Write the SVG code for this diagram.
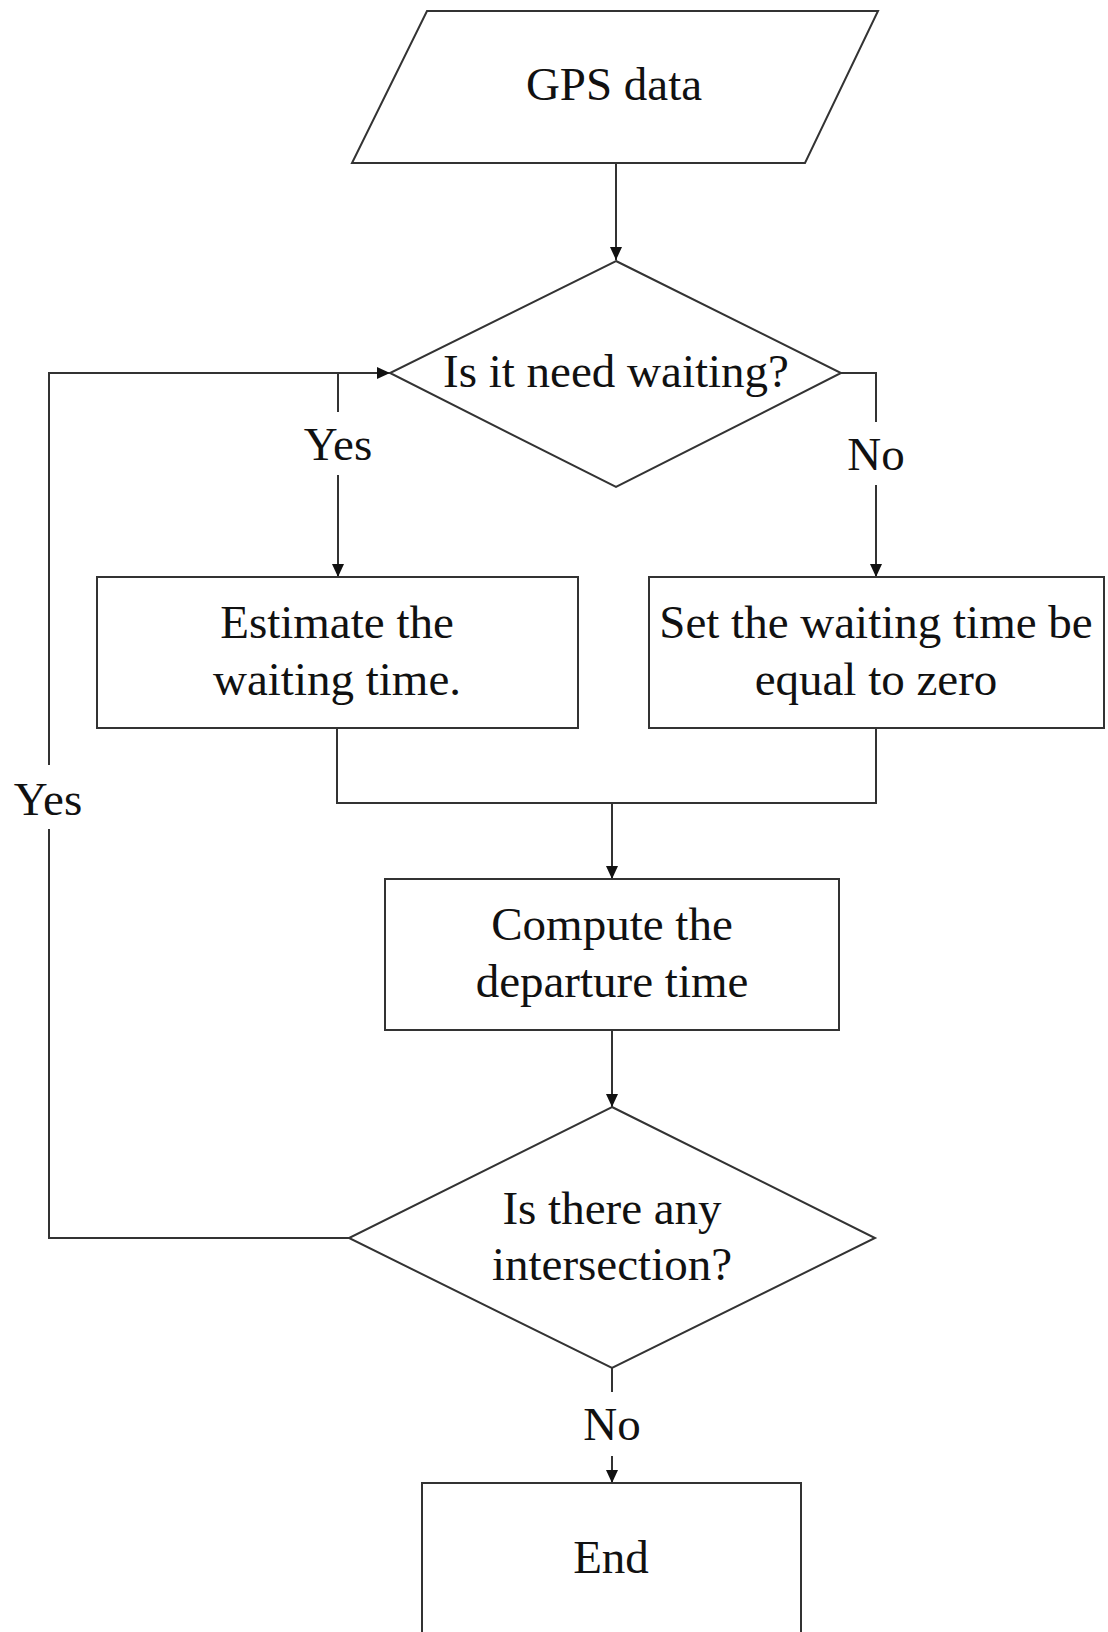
<svg xmlns="http://www.w3.org/2000/svg" width="1108" height="1632" viewBox="0 0 1108 1632">
  <style>
    .shape { fill: #ffffff; stroke: #333333; stroke-width: 2; }
    .wire { fill: none; stroke: #333333; stroke-width: 2; }
    .label { font-family: "Liberation Serif", "Times New Roman", serif; font-size: 47px; fill: #111111; text-anchor: middle; }
  </style>
  <defs>
    <marker id="arrow" markerUnits="userSpaceOnUse" markerWidth="13" markerHeight="12" viewBox="0 0 13 12" refX="13" refY="6" orient="auto">
      <path d="M0,0 L13,6 L0,12 z" fill="#111111"/>
    </marker>
  </defs>
  <rect width="1108" height="1632" fill="#ffffff"/>

  <!-- connectors -->
  <g id="connectors">
    <path class="wire" d="M616,163 V260" marker-end="url(#arrow)"/>
    <!-- yes branch of first decision -->
    <path class="wire" d="M338,373 V412"/>
    <path class="wire" d="M338,475 V577" marker-end="url(#arrow)"/>
    <!-- no branch of first decision -->
    <path class="wire" d="M841,373 H876 V422"/>
    <path class="wire" d="M876,485 V577" marker-end="url(#arrow)"/>
    <!-- merge of both branches -->
    <path class="wire" d="M337,728 V803 H876 V728"/>
    <path class="wire" d="M612,803 V879" marker-end="url(#arrow)"/>
    <path class="wire" d="M612,1030 V1107" marker-end="url(#arrow)"/>
    <!-- loop back when there is an intersection -->
    <path class="wire" d="M349,1238 H49 V829"/>
    <path class="wire" d="M49,765 V373 H390" marker-end="url(#arrow)"/>
    <!-- exit -->
    <path class="wire" d="M612,1368 V1392"/>
    <path class="wire" d="M612,1456 V1483" marker-end="url(#arrow)"/>
    <text class="label" x="338" y="460">Yes</text>
    <text class="label" x="876" y="470">No</text>
    <text class="label" x="48" y="815">Yes</text>
    <text class="label" x="612" y="1440">No</text>
  </g>

  <g id="gps-data">
    <polygon class="shape" points="427,11 878,11 805,163 352,163"/>
    <text class="label" x="614" y="100">GPS data</text>
  </g>

  <g id="need-waiting">
    <polygon class="shape" points="616,261 841,373 616,487 390,373"/>
    <text class="label" x="616" y="387">Is it need waiting?</text>
  </g>

  <g id="estimate-wait">
    <rect class="shape" x="97" y="577" width="481" height="151"/>
    <text class="label" x="337" y="638">Estimate the</text>
    <text class="label" x="337" y="695">waiting time.</text>
  </g>

  <g id="zero-wait">
    <rect class="shape" x="649" y="577" width="455" height="151"/>
    <text class="label" x="876" y="638">Set the waiting time be</text>
    <text class="label" x="876" y="695">equal to zero</text>
  </g>

  <g id="compute-departure">
    <rect class="shape" x="385" y="879" width="454" height="151"/>
    <text class="label" x="612" y="940">Compute the</text>
    <text class="label" x="612" y="997">departure time</text>
  </g>

  <g id="any-intersection">
    <polygon class="shape" points="612,1107 875,1238 612,1368 349,1238"/>
    <text class="label" x="612" y="1224">Is there any</text>
    <text class="label" x="612" y="1280">intersection?</text>
  </g>

  <g id="end">
    <rect class="shape" x="422" y="1483" width="379" height="170"/>
    <text class="label" x="611" y="1573">End</text>
  </g>
</svg>
